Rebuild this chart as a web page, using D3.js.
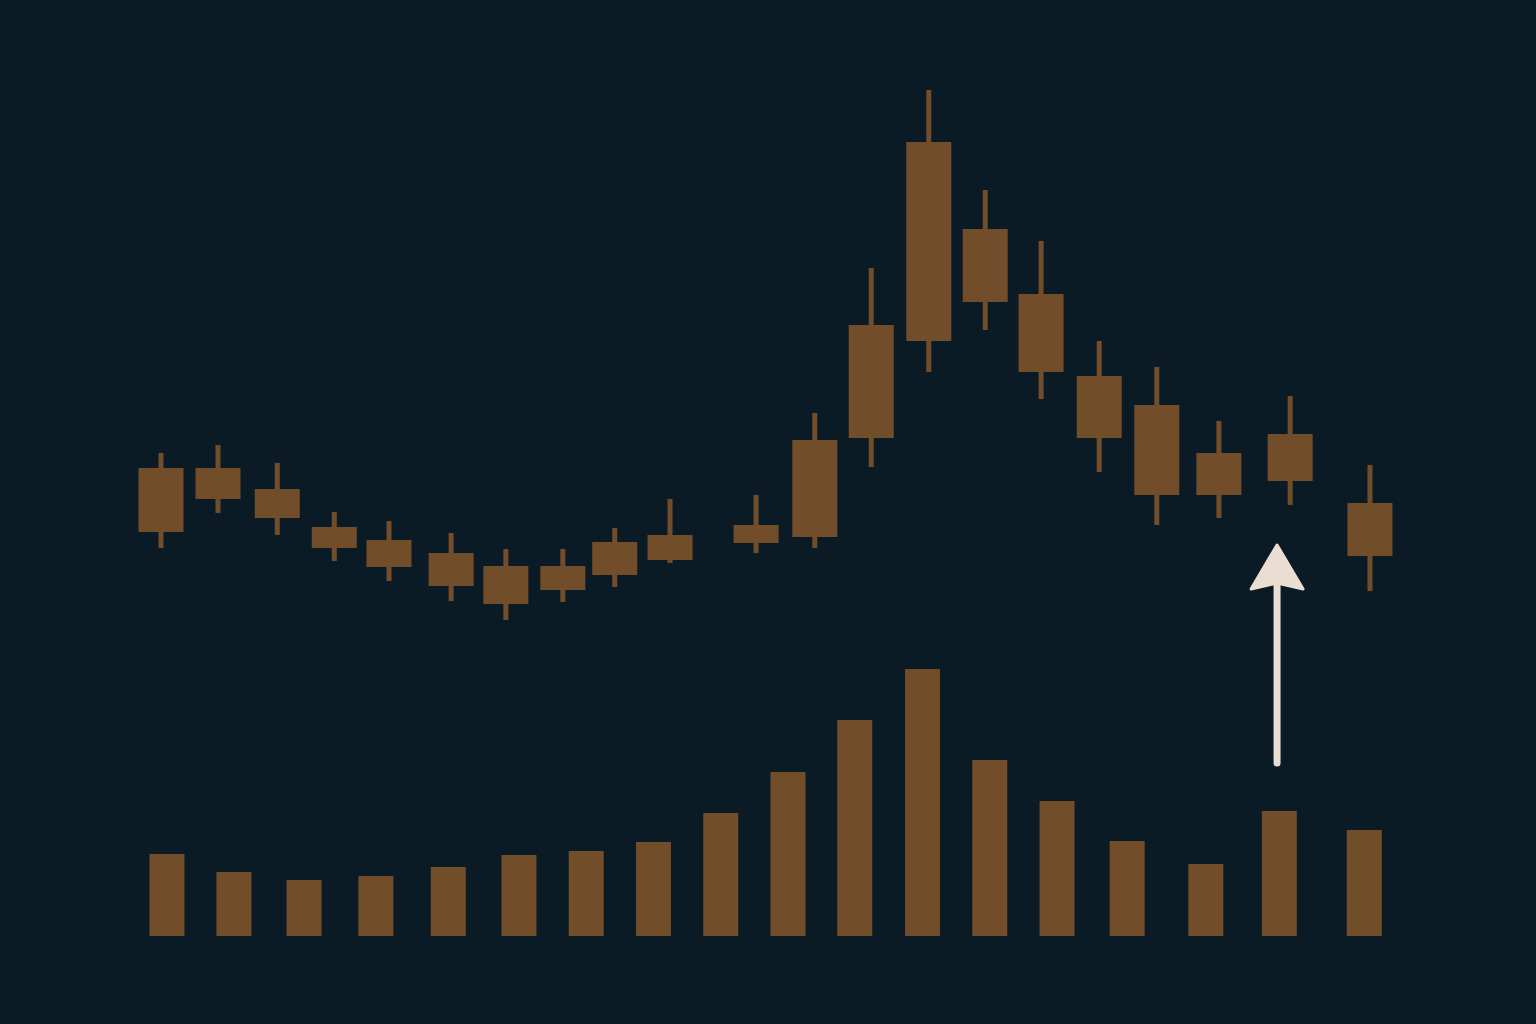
<!DOCTYPE html>
<html>
<head>
<meta charset="utf-8">
<script src="https://cdn.jsdelivr.net/npm/d3@7"></script>
<style>
html,body{margin:0;padding:0;background:#0b1b26;}
svg{display:block;}
</style>
</head>
<body>
<svg id="chart" width="1536" height="1024"></svg>
<script>
// Candle data (session position, high, low, open, close)
const candleT     = [0, 1, 2.04, 3.04, 4, 5.09, 6.05, 7.05, 7.96, 8.93, 10.44, 11.47, 12.46, 13.47, 14.46, 15.44, 16.46, 17.47, 18.56, 19.81, 21.21];
const candleHigh  = [49.4, 51, 47.4, 37.6, 35.8, 33.4, 30.2, 30.2, 34.4, 40.2, 41, 57.4, 86.4, 122, 102, 91.8, 71.8, 66.6, 55.8, 60.8, 47];
const candleLow   = [30.4, 37.4, 33, 27.8, 23.8, 19.8, 16, 19.6, 22.6, 27.4, 29.4, 30.4, 46.6, 65.6, 74, 60.2, 45.6, 35, 36.4, 39, 21.8];
const candleOpen  = [46.4, 46.4, 42.2, 34.6, 32, 29.4, 26.8, 22, 25, 28, 31.4, 32.6, 52.4, 71.8, 94.2, 81.2, 64.8, 59, 49.4, 43.8, 39.4];
const candleClose = [33.6, 40.2, 36.4, 30.4, 26.6, 22.8, 19.2, 26.8, 31.6, 33, 35, 52, 75, 111.6, 79.6, 65.6, 52.4, 41, 41, 53.2, 28.8];

// Volume data
const volumeT     = [0.105, 1.28, 2.51, 3.77, 5.04, 6.28, 7.46, 8.64, 9.82, 11.0, 12.17, 13.36, 14.54, 15.72, 16.95, 18.33, 19.62, 21.11];
const volumeValue = [82, 64, 56, 60, 69, 81, 85, 94, 123, 164, 216, 267, 176, 135, 95, 72, 125, 106];

// Arrow annotation: from volume level up to price level
const arrowT = [19.58];
const arrowFromVolume = [173];
const arrowToPrice = [31.4];

const BG = "#0b1b26", CANDLE = "#724d29", ARROW = "#e9ded1";

const svg = d3.select("#chart");
svg.append("rect").attr("width",1536).attr("height",1024).attr("fill",BG);

const x = d3.scaleLinear().domain([0, 21.21]).range([161, 161 + 57*21.21]);
const yPrice = d3.scaleLinear().domain([0, 140]).range([700, 0]);
const yVol = d3.scaleLinear().domain([0, 300]).range([936, 636]);

const candles = candleT.map((t,i)=>({t, h:candleHigh[i], l:candleLow[i], o:candleOpen[i], c:candleClose[i]}));
const vols = volumeT.map((t,i)=>({t, v:volumeValue[i]}));

const bodyW = 45, wickW = 5, volW = 35;

const g = svg.append("g");
g.selectAll(".wick").data(candles).join("rect")
  .attr("x", d=>x(d.t)-wickW/2)
  .attr("y", d=>yPrice(d.h))
  .attr("width", wickW)
  .attr("height", d=>yPrice(d.l)-yPrice(d.h))
  .attr("fill", CANDLE);
g.selectAll(".body").data(candles).join("rect")
  .attr("x", d=>x(d.t)-bodyW/2)
  .attr("y", d=>yPrice(Math.max(d.o,d.c)))
  .attr("width", bodyW)
  .attr("height", d=>Math.abs(yPrice(d.o)-yPrice(d.c)))
  .attr("fill", CANDLE);

g.selectAll(".vol").data(vols).join("rect")
  .attr("x", d=>x(d.t)-volW/2)
  .attr("y", d=>yVol(d.v))
  .attr("width", volW)
  .attr("height", d=>yVol(0)-yVol(d.v))
  .attr("fill", CANDLE);

// Arrow
const ax = x(arrowT[0]), ay0 = yVol(arrowFromVolume[0]), ay1 = yPrice(arrowToPrice[0]);
const headLen = 46, headHalf = 26;
svg.append("line")
  .attr("x1", ax).attr("x2", ax)
  .attr("y1", ay0).attr("y2", ay1 + headLen - 4)
  .attr("stroke", ARROW).attr("stroke-width", 7).attr("stroke-linecap","round");
svg.append("path")
  .attr("d", d3.line()([[ax, ay1+2],[ax+headHalf, ay1+headLen],[ax, ay1+headLen-6],[ax-headHalf, ay1+headLen]]) + "Z")
  .attr("fill", ARROW).attr("stroke", ARROW).attr("stroke-width", 3).attr("stroke-linejoin","round");
</script>
</body>
</html>
